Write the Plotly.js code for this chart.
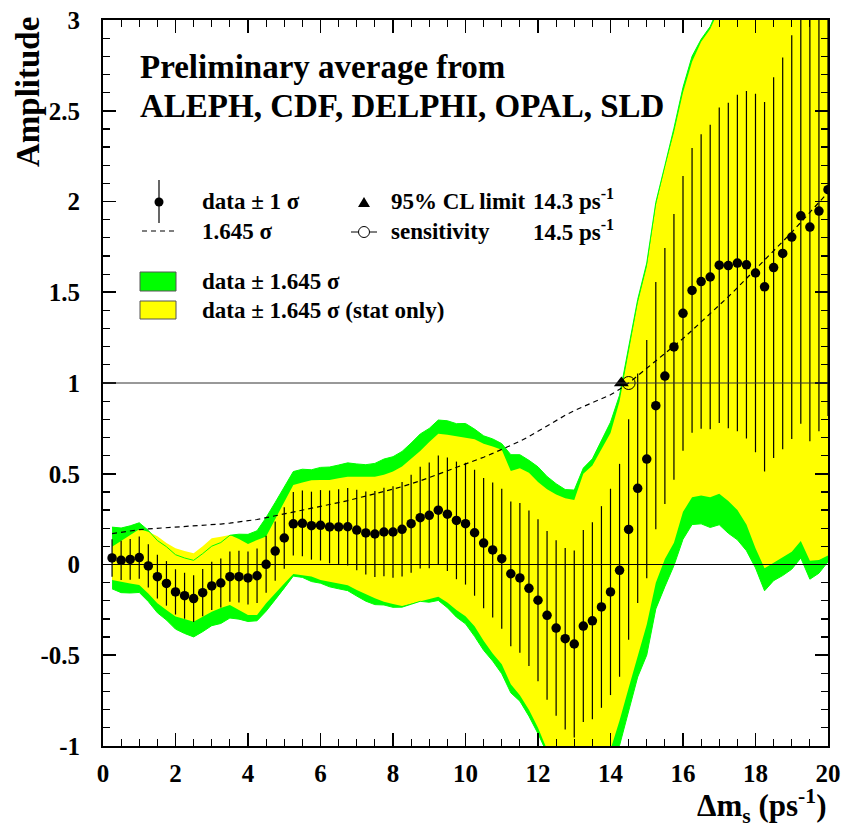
<!DOCTYPE html>
<html>
<head>
<meta charset="utf-8">
<script src="https://cdn.plot.ly/plotly-3.0.1.min.js"></script>
<style>html,body{margin:0;padding:0;background:#fff;}#chart{width:842px;height:831px;}</style>
</head>
<body>
<div id="chart"></div>
<script>
// ---- data ----
const dms = [0.25,0.5,0.75,1.0,1.25,1.5,1.75,2.0,2.25,2.5,2.75,3.0,3.25,3.5,3.75,4.0,4.25,4.5,4.75,5.0,
  5.25,5.5,5.75,6.0,6.25,6.5,6.75,7.0,7.25,7.5,7.75,8.0,8.25,8.5,8.75,9.0,9.25,9.5,9.75,10.0,
  10.25,10.5,10.75,11.0,11.25,11.5,11.75,12.0,12.25,12.5,12.75,13.0,13.25,13.5,13.75,14.0,14.25,14.5,14.75,15.0,
  15.25,15.5,15.75,16.0,16.25,16.5,16.75,17.0,17.25,17.5,17.75,18.0,18.25,18.5,18.75,19.0,19.25,19.5,19.75,20.0];

const amplitude = [0.036,0.023,0.028,0.038,-0.008,-0.067,-0.104,-0.151,-0.172,-0.188,-0.155,-0.118,-0.102,-0.067,-0.067,-0.074,-0.062,0.001,0.074,0.146,
  0.224,0.227,0.214,0.216,0.207,0.207,0.208,0.190,0.174,0.168,0.179,0.179,0.194,0.225,0.258,0.271,0.299,0.277,0.243,0.225,
  0.175,0.118,0.080,0.032,-0.051,-0.074,-0.131,-0.197,-0.280,-0.350,-0.409,-0.438,-0.339,-0.310,-0.234,-0.151,-0.032,0.193,0.420,0.581,
  0.875,1.038,1.199,1.384,1.510,1.559,1.584,1.649,1.647,1.661,1.651,1.606,1.530,1.636,1.714,1.804,1.921,1.859,1.947,2.065];

// 1.645 sigma (dashed curve)
const sigma1645 = [0.170,0.178,0.185,0.192,0.196,0.199,0.202,0.205,0.208,0.211,0.215,0.219,0.223,0.228,0.234,0.240,0.248,0.258,0.268,0.278,
  0.288,0.298,0.308,0.319,0.330,0.341,0.352,0.364,0.376,0.389,0.402,0.415,0.429,0.444,0.461,0.479,0.497,0.515,0.533,0.552,
  0.571,0.591,0.612,0.634,0.656,0.679,0.705,0.735,0.765,0.795,0.822,0.848,0.870,0.892,0.914,0.935,0.965,1.000,1.040,1.080,
  1.120,1.160,1.205,1.245,1.290,1.335,1.380,1.430,1.475,1.525,1.575,1.625,1.675,1.725,1.775,1.830,1.885,1.940,1.995,2.050];

// yellow band (stat only) edges
const statHi = [0.098,0.130,0.165,0.194,0.181,0.155,0.118,0.089,0.075,0.062,0.100,0.144,0.153,0.163,0.140,0.113,0.135,0.154,0.250,0.345,
  0.438,0.452,0.464,0.466,0.466,0.475,0.484,0.484,0.484,0.484,0.495,0.512,0.540,0.580,0.625,0.675,0.720,0.715,0.705,0.698,
  0.690,0.665,0.650,0.632,0.515,0.530,0.505,0.455,0.415,0.385,0.365,0.356,0.500,0.545,0.635,0.725,0.900,1.170,1.440,1.640,
  1.980,2.190,2.380,2.600,2.770,2.880,2.950,3.060,3.100,3.170,3.210,3.220,3.190,3.340,3.470,3.610,3.780,3.780,3.920,4.090];
const statLo = [-0.085,-0.095,-0.104,-0.113,-0.160,-0.214,-0.250,-0.287,-0.300,-0.315,-0.288,-0.260,-0.240,-0.223,-0.250,-0.278,-0.278,-0.214,-0.160,-0.105,
  -0.052,-0.057,-0.066,-0.085,-0.095,-0.104,-0.115,-0.140,-0.165,-0.186,-0.205,-0.218,-0.228,-0.215,-0.203,-0.190,-0.178,-0.210,-0.251,-0.285,
  -0.340,-0.420,-0.490,-0.550,-0.660,-0.720,-0.800,-0.900,-1.020,-1.200,-1.300,-1.350,-1.300,-1.250,-1.150,-1.020,-0.860,-0.680,-0.500,-0.330,
  -0.100,0.030,0.120,0.290,0.370,0.380,0.370,0.390,0.350,0.300,0.220,0.090,-0.020,0.010,0.040,0.070,0.130,0.020,0.025,0.050];

const clLimit = {x: [14.3], y: [1.0]};
const sensitivity = {x: [14.5], y: [1.0]};

const xTickVals = [0,2,4,6,8,10,12,14,16,18,20];
const xTickText = ['0','2','4','6','8','10','12','14','16','18','20'];
const yTickVals = [-1,-0.5,0,0.5,1,1.5,2,2.5,3];
const yTickText = ['-1','-0.5','0','0.5','1','1.5','2','2.5','3'];

// ---- derived quantities ----
const sigma = sigma1645.map(v => v / 1.645);
const totHi = amplitude.map((a, i) => a + sigma1645[i]);
const totLo = amplitude.map((a, i) => a - sigma1645[i]);
const rev = a => a.slice().reverse();

const GREEN = '#00ff00', YELLOW = '#ffff00';
const FONT = 'Liberation Serif, Times New Roman, serif';

const traces = [
  {x: dms.concat(rev(dms)), y: totHi.concat(rev(totLo)), mode: 'lines', fill: 'toself',
   fillcolor: GREEN, line: {width: 0, color: GREEN}, hoverinfo: 'skip'},
  {x: dms.concat(rev(dms)), y: statHi.concat(rev(statLo)), mode: 'lines', fill: 'toself',
   fillcolor: YELLOW, line: {width: 0, color: YELLOW}, hoverinfo: 'skip'},
  {x: dms, y: totHi, mode: 'lines', line: {width: 1, color: GREEN}},
  {x: dms, y: totLo, mode: 'lines', line: {width: 1, color: GREEN}},
  {x: dms, y: sigma1645, mode: 'lines', line: {width: 1.2, color: 'black', dash: '5px,4px'}},
  {x: dms, y: amplitude, mode: 'markers', marker: {color: 'black', size: 9.5},
   error_y: {type: 'data', array: sigma, visible: true, width: 0, thickness: 1.2, color: 'black'}},
  {x: clLimit.x, y: clLimit.y, mode: 'markers', marker: {symbol: 'triangle-up', size: 13, color: 'black'}},
  {x: sensitivity.x, y: sensitivity.y, mode: 'markers',
   marker: {symbol: 'circle-open', size: 13, color: 'black', line: {width: 1, color: 'black'}}}
];

// pixel -> paper helpers for legend/titles
const L = 103, R = 828, T = 20, B = 746;
const px = v => (v - L) / (R - L);
const py = v => (B - v) / (B - T);

function txt(t, xp, yp, size, xanchor, extra) {
  return Object.assign({text: t, x: px(xp), y: py(yp), xref: 'paper', yref: 'paper',
    showarrow: false, xanchor: xanchor || 'left', yanchor: 'middle',
    font: {family: FONT, size: size, color: 'black', weight: 'bold'}}, extra || {});
}

const annotations = [
  txt('Preliminary average from', 138, 67, 33),
  txt('ALEPH, CDF, DELPHI, OPAL, SLD', 138, 106, 33),
  txt('data ± 1 σ', 200, 202, 23),
  txt('1.645 σ', 200, 232, 23),
  txt('95% CL limit', 389, 202, 23),
  txt('14.3 ps<sup>-1</sup>', 531, 200, 23),
  txt('sensitivity', 389, 232, 23),
  txt('14.5 ps<sup>-1</sup>', 531, 230, 23),
  txt('data ± 1.645 σ', 200, 281, 23),
  txt('data ± 1.645 σ (stat only)', 200, 310, 23),
  txt('Amplitude', 28, 92, 33, 'center', {textangle: -90}),
  txt('Δm<sub>s</sub> (ps<sup>-1</sup>)', 829, 806, 31, 'right')
];

const shapes = [
  {type: 'line', xref: 'paper', yref: 'y', x0: 0, x1: 1, y0: 0, y1: 0, line: {color: 'black', width: 1.2}, layer: 'above'},
  {type: 'line', xref: 'paper', yref: 'y', x0: 0, x1: 1, y0: 1, y1: 1, line: {color: '#333', width: 1}, layer: 'above'},
  // legend symbols
  {type: 'line', xref: 'paper', yref: 'paper', x0: px(159), x1: px(159), y0: py(180), y1: py(223), line: {color: 'black', width: 1.2}},
  {type: 'circle', xref: 'paper', yref: 'paper', x0: px(154.5), x1: px(163.5), y0: py(206.5), y1: py(197.5), fillcolor: 'black', line: {width: 0}},
  {type: 'line', xref: 'paper', yref: 'paper', x0: px(142), x1: px(177), y0: py(231), y1: py(231), line: {color: 'black', width: 1.2, dash: '5px,4px'}},
  {type: 'path', xref: 'paper', yref: 'paper',
   path: 'M ' + px(358) + ' ' + py(207) + ' L ' + px(370) + ' ' + py(207) + ' L ' + px(364) + ' ' + py(197) + ' Z',
   fillcolor: 'black', line: {width: 0}},
  {type: 'circle', xref: 'paper', yref: 'paper', x0: px(358.5), x1: px(369.5), y0: py(237.5), y1: py(226.5), line: {color: 'black', width: 1}},
  {type: 'line', xref: 'paper', yref: 'paper', x0: px(351), x1: px(358), y0: py(232), y1: py(232), line: {color: 'black', width: 1}},
  {type: 'line', xref: 'paper', yref: 'paper', x0: px(370), x1: px(377), y0: py(232), y1: py(232), line: {color: 'black', width: 1}},
  {type: 'rect', xref: 'paper', yref: 'paper', x0: px(140), x1: px(176), y0: py(291), y1: py(272), fillcolor: GREEN, line: {color: '#555', width: 1}},
  {type: 'rect', xref: 'paper', yref: 'paper', x0: px(140), x1: px(176), y0: py(319), y1: py(301), fillcolor: YELLOW, line: {color: '#555', width: 1}}
];

const axisCommon = {
  showline: true, linecolor: 'black', linewidth: 2, mirror: 'allticks',
  ticks: 'inside', tickcolor: 'black', tickwidth: 1.6, ticklen: 13,
  showgrid: false, zeroline: false, layer: 'above traces',
  tickfont: {family: FONT, size: 25, color: 'black', weight: 'bold'}
};

// tick-only overlay axes carrying the minor ticks
const minorAxis = {
  showline: false, showgrid: false, zeroline: false, showticklabels: false,
  ticks: 'inside', tickcolor: 'black', tickwidth: 1.2, ticklen: 7, mirror: 'allticks', layer: 'above traces'
};

const layout = {
  width: 842, height: 831,
  margin: {l: L, r: 842 - R, t: T, b: 831 - B, pad: 0},
  paper_bgcolor: 'white', plot_bgcolor: 'white',
  showlegend: false,
  xaxis: Object.assign({}, axisCommon, {range: [0, 20], tickmode: 'array', tickvals: xTickVals, ticktext: xTickText,
    ticklabelstandoff: 4}),
  yaxis: Object.assign({}, axisCommon, {range: [-1, 3], tickmode: 'array', tickvals: yTickVals, ticktext: yTickText,
    ticklabelstandoff: 16}),
  xaxis2: Object.assign({}, minorAxis, {overlaying: 'x', anchor: 'y2', side: 'bottom', range: [0, 20], tickmode: 'linear', tick0: 0, dtick: 0.5}),
  yaxis2: Object.assign({}, minorAxis, {overlaying: 'y', anchor: 'x2', side: 'left', range: [-1, 3], tickmode: 'linear', tick0: 0, dtick: 0.1}),
  annotations: annotations,
  shapes: shapes
};

// invisible trace so the overlay (minor-tick) axes are drawn
traces.push({x: [dms[0]], y: [amplitude[0]], xaxis: 'x2', yaxis: 'y2', mode: 'markers',
  marker: {size: 1, opacity: 0}, hoverinfo: 'skip'});

Plotly.newPlot('chart', traces, layout, {displayModeBar: false, staticPlot: true});
</script>
</body>
</html>
